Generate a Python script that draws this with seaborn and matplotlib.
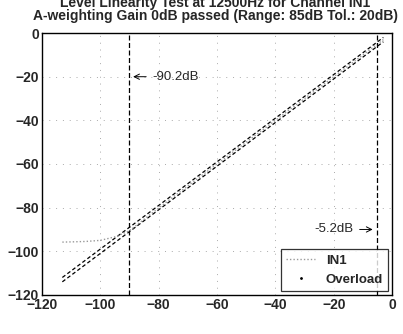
import matplotlib
matplotlib.use("Agg")
import matplotlib.pyplot as plt
import seaborn as sns
import pandas as pd

sns.set_style("white")
plt.rcParams['font.family'] = ['Liberation Sans', 'DejaVu Sans']
plt.rcParams['font.weight'] = 'bold'

title_lines = ["Level Linearity Test at 12500Hz for Channel IN1",
               "A-weighting Gain 0dB passed (Range: 85dB Tol.: 20dB)"]

# input level (dB)
level = [-113, -110, -105, -100, -95, -90, -85, -80, -75, -70, -65, -60, -55, -50,
         -45, -40, -35, -30, -25, -20, -15, -10, -5, -3]
upper = [-112, -109, -104, -99, -94, -89, -84, -79, -74, -69, -64, -59, -54, -49,
         -44, -39, -34, -29, -24, -19, -14, -9, -4, -2]
lower = [-114, -111, -106, -101, -96, -91, -86, -81, -76, -71, -66, -61, -56, -51,
         -46, -41, -36, -31, -26, -21, -16, -11, -6, -4]
in1 = [-95.8, -95.7, -95.5, -95.0, -93.4, -90.6, -85.3, -80.2, -75.1, -70.1, -65.0,
       -60.0, -55.0, -50.0, -45.0, -40.0, -35.0, -30.0, -25.0, -20.0, -15.0, -10.0,
       -5.0, -3.0]

range_low = -90.2
overload = -5.2

df = pd.DataFrame({"level": level, "upper": upper, "lower": lower, "IN1": in1})

fig = plt.figure(figsize=(4.03, 3.34), dpi=100)
ax = fig.add_axes([0.104, 0.117, 0.869, 0.784])

sns.lineplot(data=df, x="level", y="upper", ax=ax, color="black", lw=0.9,
             linestyle=(0, (3, 2)))
sns.lineplot(data=df, x="level", y="lower", ax=ax, color="black", lw=0.9,
             linestyle=(0, (3, 2)))
sns.lineplot(data=df, x="level", y="IN1", ax=ax, color="#999999", lw=1.0,
             linestyle=(0, (1, 1.5)), label="IN1")
ax.plot([], [], linestyle="none", marker=".", markersize=2, color="black", label="Overload")

ax.axvline(range_low, color="black", lw=0.9, linestyle=(0, (4, 2)))
ax.axvline(overload, color="black", lw=0.9, linestyle=(0, (4, 2)))

ax.annotate(f"{range_low}dB", xy=(range_low + 0.5, -20), xytext=(range_low + 8, -20),
            va="center", ha="left", fontsize=9.5, fontweight="normal",
            arrowprops=dict(arrowstyle="->", lw=0.7, color="black"))
ax.annotate(f"{overload}dB", xy=(overload - 0.5, -90), xytext=(overload - 8, -90),
            va="center", ha="right", fontsize=9.5, fontweight="normal",
            arrowprops=dict(arrowstyle="->", lw=0.7, color="black"))

ax.set_xlim(-120, 0)
ax.set_ylim(-120, 0)
ax.set_xticks(range(-120, 1, 20))
ax.set_yticks(range(-120, 1, 20))
ax.set_xlabel("")
ax.set_ylabel("")
ax.tick_params(labelsize=10, direction="in", length=3, pad=2)
for lab in ax.get_xticklabels() + ax.get_yticklabels():
    lab.set_fontweight("bold")
ax.grid(True, color="#aaaaaa", linestyle=(0, (1, 6)), lw=0.7)
for s in ax.spines.values():
    s.set_color("black")
    s.set_linewidth(1.0)

fig.text(0.535, 1 - 3 / 334, title_lines[0], ha="center", va="center",
         fontsize=10, fontweight="bold")
fig.text(0.535, 1 - 16 / 334, title_lines[1], ha="center", va="center",
         fontsize=10, fontweight="bold")

leg = ax.legend(loc="lower right", frameon=True, fancybox=False,
                edgecolor="black", handlelength=2.2, borderaxespad=0.3,
                prop={"weight": "bold", "size": 9.5})
leg.get_frame().set_linewidth(0.9)

fig.savefig("out.png", dpi=100)
